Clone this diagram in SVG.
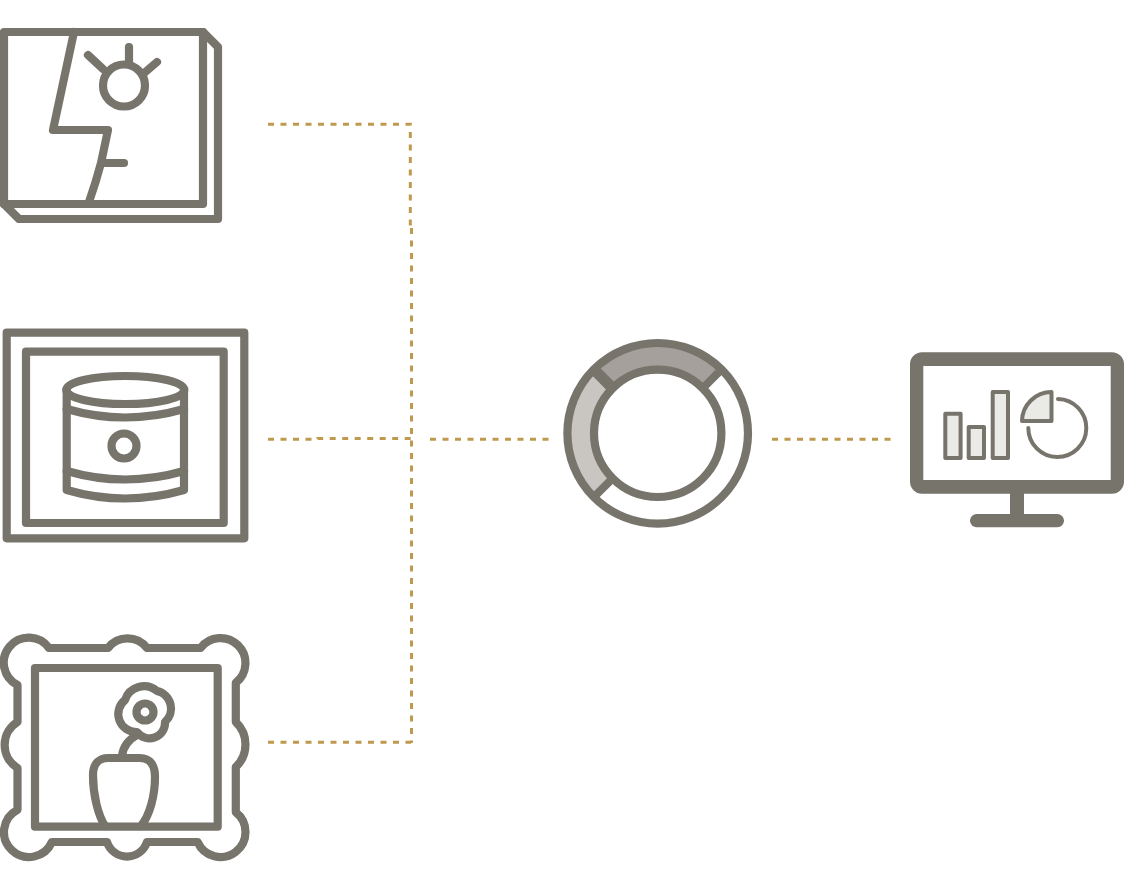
<svg xmlns="http://www.w3.org/2000/svg" width="1148" height="878" viewBox="0 0 1148 878">
<style>
.s{fill:none;stroke:#77746c;stroke-width:8.2;stroke-linecap:round;stroke-linejoin:round}
.t{stroke-width:4}
.b{fill:#eaeae6}
.c{fill:none;stroke:#bf9a4e;stroke-width:3;stroke-dasharray:6 6.5}
</style>
<rect width="1148" height="878" fill="#fff"/>
<g id="connectors">
<path class="c" d="M268 124.3H410.3V228"/>
<path class="c" d="M411.5 228V743"/>
<path class="c" d="M268 439.3H318V438.5H411"/>
<path class="c" d="M268 742.3H411"/>
<path class="c" d="M430 439.3H550"/>
<path class="c" d="M772 439.3H892"/>
</g>
<g id="node-lightning">
<path class="s" d="M4 32H203L218 47V219H19L4 204Z"/>
<path class="s" d="M4 204H203V32"/>
<path class="s" d="M74 32L53 130H108L101 163Q96 182 89 202"/>
<path class="s" d="M103 163H124"/>
<circle class="s" cx="124" cy="85.5" r="21"/>
<path class="s" d="M129 47V62M88 55L103 69M157 62L143 74"/>
</g>
<g id="node-database">
<rect class="s" x="6.7" y="332.7" width="237.6" height="205.6"/>
<rect class="s" x="26" y="351.7" width="197.7" height="171.3"/>
<ellipse class="s" cx="125.3" cy="390" rx="59" ry="14"/>
<path class="s" d="M66.7 390V490Q125 507 184 490V390"/>
<path class="s" d="M66.7 409Q125 426 184 409"/>
<path class="s" d="M66.7 471Q125 488 184 471"/>
<circle class="s" cx="124" cy="446" r="12.5"/>
</g>
<g id="node-frame">
<path class="s" d="M49 648H108A24.6 24.6 0 0 1 147 648H200.5A25 25 0 1 1 235.8 682.8V722A31 31 0 0 1 235.8 767V812.2A25 25 0 1 1 197.6 842H147A21 21 0 0 1 107 842H51.9A25 25 0 1 1 17.5 809.8V768A27 27 0 0 1 17.5 722V685A25 25 0 1 1 49 648Z"/>
<rect class="s" x="35" y="668" width="182.7" height="158.7"/>
<path class="s" d="M125 700A20 20 0 0 1 157 691A18 18 0 0 1 165 722A15.5 15.5 0 0 1 137 732A18 18 0 0 1 125 700Z"/>
<circle class="s" cx="145" cy="712" r="8.5"/>
<path class="s" d="M137 735C128 740 123 747 122 756"/>
<path class="s" d="M105 826C98 815 93 795 93 775C93 763 100 758 108 758H140C150 758 155 765 155 777C155 795 150 815 141 826"/>
</g>
<g id="node-ring">
<path d="M594.1 369.7A90 90 0 0 1 721.3 369.7L703 388A64 64 0 0 0 612.4 388Z" fill="#a5a09b"/>
<path d="M594.1 496.9A90 90 0 0 1 594.1 369.7L612.4 388A64 64 0 0 0 612.4 478.6Z" fill="#c9c5c1"/>
<circle cx="657.7" cy="433.3" r="90.3" fill="none" stroke="#77746c" stroke-width="8.2"/>
<circle cx="657.7" cy="433.3" r="63.7" fill="none" stroke="#77746c" stroke-width="8.2"/>
<path d="M594.1 369.7L612.4 388" fill="none" stroke="#77746c" stroke-width="11"/>
<path d="M721.3 369.7L703 388M594.1 496.9L612.4 478.6" fill="none" stroke="#77746c" stroke-width="8"/>
</g>
<g id="node-monitor">
<path fill="#77746c" fill-rule="evenodd" d="M922 352.3H1112A12 12 0 0 1 1124 364.3V481.7A12 12 0 0 1 1112 493.7H922A12 12 0 0 1 910 481.7V364.3A12 12 0 0 1 922 352.3ZM923.3 366V480H1110.7V366Z"/>
<rect x="1010" y="490" width="14" height="27" fill="#77746c"/>
<rect x="970" y="514" width="94" height="13.3" rx="6.6" fill="#77746c"/>
<rect class="s t b" x="945.3" y="413.7" width="15.3" height="44.3"/>
<rect class="s t b" x="968.7" y="427" width="15.3" height="31"/>
<rect class="s t b" x="992.7" y="392" width="15.3" height="66"/>
<path class="s t b" d="M1051.5 392V421H1022A29.5 29.5 0 0 1 1051.5 392Z"/>
<path class="s t" d="M1058 399A29 29 0 1 1 1028.3 428"/>
</g>
</svg>
